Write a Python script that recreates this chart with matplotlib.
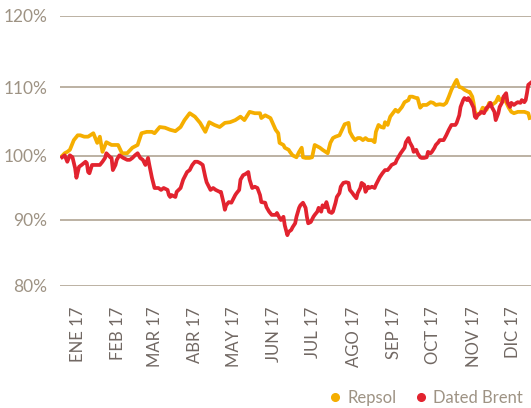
import numpy as np
import matplotlib
matplotlib.use("Agg")
import matplotlib.pyplot as plt
from matplotlib.lines import Line2D

# ---- data (day of year 2017, index value in %) ----
month_labels = ["ENE 17", "FEB 17", "MAR 17", "ABR 17", "MAY 17", "JUN 17",
                "JUL 17", "AGO 17", "SEP 17", "OCT 17", "NOV 17", "DIC 17"]
month_mid_days = [15, 46, 74, 105, 135, 166, 196, 227, 258, 288, 319, 349]
y_ticks = [80, 90, 100, 110, 120]
y_tick_labels = ["80%", "90%", "100%", "110%", "120%"]

repsol = [(3, 100.0), (5, 100.4), (7, 100.6), (9, 100.9), (12, 102.3), (15, 103.0), (17, 103.0),
          (20, 102.8), (23, 102.8), (27, 103.3), (30, 101.9), (32, 102.8), (34, 100.6), (37, 102.0),
          (41, 101.6), (46, 101.6), (49, 100.4), (53, 100.4), (57, 101.2), (61, 101.6), (64, 103.3),
          (68, 103.5), (72, 103.5), (74, 103.3), (78, 104.2), (82, 104.1), (86, 103.8), (90, 103.6),
          (94, 104.2), (97, 105.2), (101, 106.2), (105, 105.7), (109, 104.8), (113, 103.5),
          (116, 104.9), (120, 104.5), (124, 104.2), (128, 104.8), (132, 104.9), (136, 105.2),
          (140, 105.7), (143, 105.2), (147, 106.4), (151, 106.2), (155, 106.2), (156, 105.5),
          (159, 105.9), (163, 105.5), (167, 103.8), (169, 103.3), (170, 101.9), (173, 101.6),
          (174, 101.2), (177, 100.9), (178, 100.6), (180, 100.1), (183, 99.8), (185, 100.6),
          (187, 101.2), (188, 99.8), (190, 99.7), (193, 99.7), (195, 99.8), (197, 101.6),
          (200, 101.3), (201, 101.2), (203, 100.9), (207, 100.4), (209, 101.9), (211, 102.6),
          (213, 102.8), (216, 103.0), (218, 103.8), (220, 104.6), (223, 104.8), (224, 103.5),
          (226, 102.8), (228, 102.3), (230, 102.6), (232, 102.6), (234, 102.3), (236, 102.6),
          (238, 102.3), (241, 102.3), (243, 102.0), (244, 103.5), (246, 104.5), (248, 104.2),
          (250, 104.1), (251, 104.9), (253, 104.5), (255, 105.7), (257, 106.2), (259, 106.7),
          (261, 106.4), (264, 107.1), (266, 107.8), (269, 108.1), (270, 108.6), (272, 108.6),
          (275, 108.4), (276, 108.4), (278, 107.0), (280, 107.4), (283, 107.4), (286, 107.8),
          (288, 107.7), (290, 107.4), (293, 107.5), (296, 107.4), (298, 107.7), (300, 108.6),
          (302, 109.6), (305, 110.7), (306, 111.0), (308, 110.0), (310, 109.9), (312, 109.6),
          (315, 109.3), (316, 109.3), (318, 108.6), (319, 107.7), (320, 106.4), (322, 105.9),
          (324, 106.2), (326, 107.0), (329, 106.7), (331, 107.7), (333, 107.4), (336, 107.8),
          (338, 108.6), (339, 108.1), (342, 108.4), (344, 107.8), (346, 107.0), (348, 106.4),
          (350, 106.2), (353, 106.4), (355, 106.4), (358, 106.4), (361, 106.2), (362, 105.5)]

brent = [(3, 99.8), (5, 100.1), (7, 99.1), (9, 100.1), (11, 99.8), (13, 98.1), (14, 96.6),
         (16, 98.3), (18, 98.6), (21, 99.1), (22, 98.9), (23, 97.5), (24, 97.3), (26, 98.6),
         (28, 98.6), (32, 98.6), (34, 99.1), (36, 99.7), (37, 100.4), (40, 99.8), (41, 99.7),
         (42, 97.8), (44, 98.6), (45, 99.4), (47, 100.1), (50, 99.7), (53, 99.4), (55, 99.4),
         (57, 99.7), (59, 100.1), (61, 100.4), (63, 99.7), (65, 99.4), (67, 98.6), (68, 99.1),
         (69, 99.7), (70, 98.6), (72, 96.6), (74, 95.0), (77, 95.0), (79, 94.7), (81, 95.0),
         (84, 94.7), (85, 93.9), (86, 93.6), (87, 93.9), (90, 93.6), (91, 94.4), (94, 95.0),
         (96, 96.3), (97, 96.7), (99, 97.5), (101, 97.8), (103, 98.6), (105, 99.1), (107, 99.1),
         (109, 98.9), (111, 98.6), (113, 96.7), (114, 95.9), (117, 94.7), (119, 95.0), (121, 94.7),
         (124, 94.4), (125, 94.4), (127, 92.7), (128, 91.6), (129, 92.3), (131, 92.8), (133, 92.7),
         (134, 93.1), (136, 93.9), (137, 94.2), (139, 94.7), (140, 96.3), (142, 97.0), (144, 97.2),
         (146, 97.5), (147, 96.3), (149, 95.0), (151, 95.2), (153, 95.0), (155, 93.9), (156, 92.8),
         (159, 92.7), (160, 92.0), (162, 91.3), (164, 90.8), (167, 90.8), (168, 91.1), (170, 90.3),
         (171, 90.0), (173, 90.5), (174, 89.2), (176, 87.7), (177, 88.2), (179, 88.5), (180, 88.9),
         (182, 89.5), (183, 90.5), (185, 91.9), (186, 92.3), (188, 92.7), (190, 91.9), (191, 90.5),
         (192, 89.5), (194, 89.7), (196, 90.5), (197, 90.8), (199, 91.3), (200, 91.9), (202, 91.3),
         (203, 92.3), (205, 92.0), (206, 92.8), (208, 91.3), (210, 91.1), (211, 91.3), (213, 92.7),
         (214, 93.6), (216, 94.2), (217, 95.2), (219, 95.8), (221, 95.9), (223, 95.8), (224, 94.7),
         (226, 94.2), (227, 93.9), (229, 93.4), (230, 94.2), (232, 95.0), (233, 95.8), (235, 95.5),
         (236, 94.4), (238, 95.2), (239, 95.0), (241, 95.2), (243, 95.0), (244, 95.5), (246, 96.3),
         (247, 96.7), (249, 97.3), (251, 97.8), (253, 97.8), (255, 98.3), (256, 98.6), (259, 98.9),
         (260, 99.4), (262, 100.1), (263, 100.4), (266, 101.2), (267, 102.0), (269, 102.6),
         (270, 102.0), (272, 101.3), (273, 100.6), (275, 100.9), (276, 100.4), (278, 99.8),
         (279, 99.7), (281, 99.7), (283, 99.8), (284, 100.6), (286, 100.4), (287, 100.6),
         (289, 101.2), (290, 101.6), (292, 102.0), (293, 102.3), (296, 102.3), (298, 103.0),
         (300, 103.8), (302, 104.5), (305, 104.5), (306, 104.8), (308, 105.9), (309, 107.1),
         (311, 108.1), (312, 108.4), (314, 108.1), (315, 108.4), (317, 107.8), (319, 107.0),
         (320, 105.7), (321, 105.5), (322, 105.9), (324, 106.2), (325, 106.4), (327, 106.2),
         (329, 107.0), (330, 107.1), (332, 107.7), (333, 107.1), (335, 106.4), (336, 105.2),
         (338, 106.2), (339, 107.1), (341, 107.8), (342, 108.6), (344, 109.1), (345, 107.8),
         (347, 107.1), (348, 107.7), (350, 107.4), (352, 107.7), (353, 107.8), (355, 107.7),
         (356, 108.1), (358, 107.8), (359, 108.1), (360, 109.1), (361, 110.3), (363, 110.6)]

# ---- style ----
C_REPSOL = "#f5ae00"
C_BRENT = "#e2232f"
C_GRID = "#a99c8a"
C_YTXT = "#9e9384"
C_XTXT = "#716863"
FONT = ["Lato", "DejaVu Sans"]

plt.rcParams["font.family"] = FONT

fig = plt.figure(figsize=(5.31, 4.08), dpi=100)
ax = fig.add_axes([60 / 531, 1 - 286 / 408, 1 - 60 / 531, 270 / 408])

# non-uniform vertical spacing of the original gridlines
_v = [0, 80, 90, 100, 110, 120, 200]
_p = [-528, 0, 66, 130, 199, 270, 838]
ax.set_yscale("function", functions=(lambda v: np.interp(v, _v, _p),
                                     lambda p: np.interp(p, _p, _v)))

rd, rv = zip(*repsol)
bd, bv = zip(*brent)
ax.plot(rd, rv, color=C_REPSOL, lw=2.7, solid_joinstyle="round", zorder=3)
ax.plot(bd, bv, color=C_BRENT, lw=2.7, solid_joinstyle="round", zorder=4)

ax.set_xlim(1.4, 363.1)
ax.set_ylim(80, 120)
ax.set_yticks(y_ticks)
ax.set_yticklabels(y_tick_labels, color=C_YTXT, fontsize=12.5)
ax.set_xticks(month_mid_days)
ax.set_xticklabels(month_labels, rotation=90, color=C_XTXT, fontsize=12, va="top")
ax.tick_params(axis="both", length=0)
ax.tick_params(axis="y", pad=9)
ax.tick_params(axis="x", pad=15)
ax.yaxis.grid(True, color=C_GRID, lw=1.1)
ax.set_axisbelow(True)
for s in ax.spines.values():
    s.set_visible(False)

handles = [Line2D([], [], marker="o", ls="none", color=C_REPSOL, markersize=5.5),
           Line2D([], [], marker="o", ls="none", color=C_BRENT, markersize=5.5)]
leg = fig.legend(handles, ["Repsol", "Dated Brent"], loc="center right",
                 bbox_to_anchor=(1.0, 1 - 398 / 408), ncol=2, frameon=False,
                 fontsize=12, handletextpad=0.2, columnspacing=1.0, handlelength=1.0,
                 borderaxespad=0.1)
for t in leg.get_texts():
    t.set_color(C_YTXT)

fig.savefig("out.png", dpi=100)
